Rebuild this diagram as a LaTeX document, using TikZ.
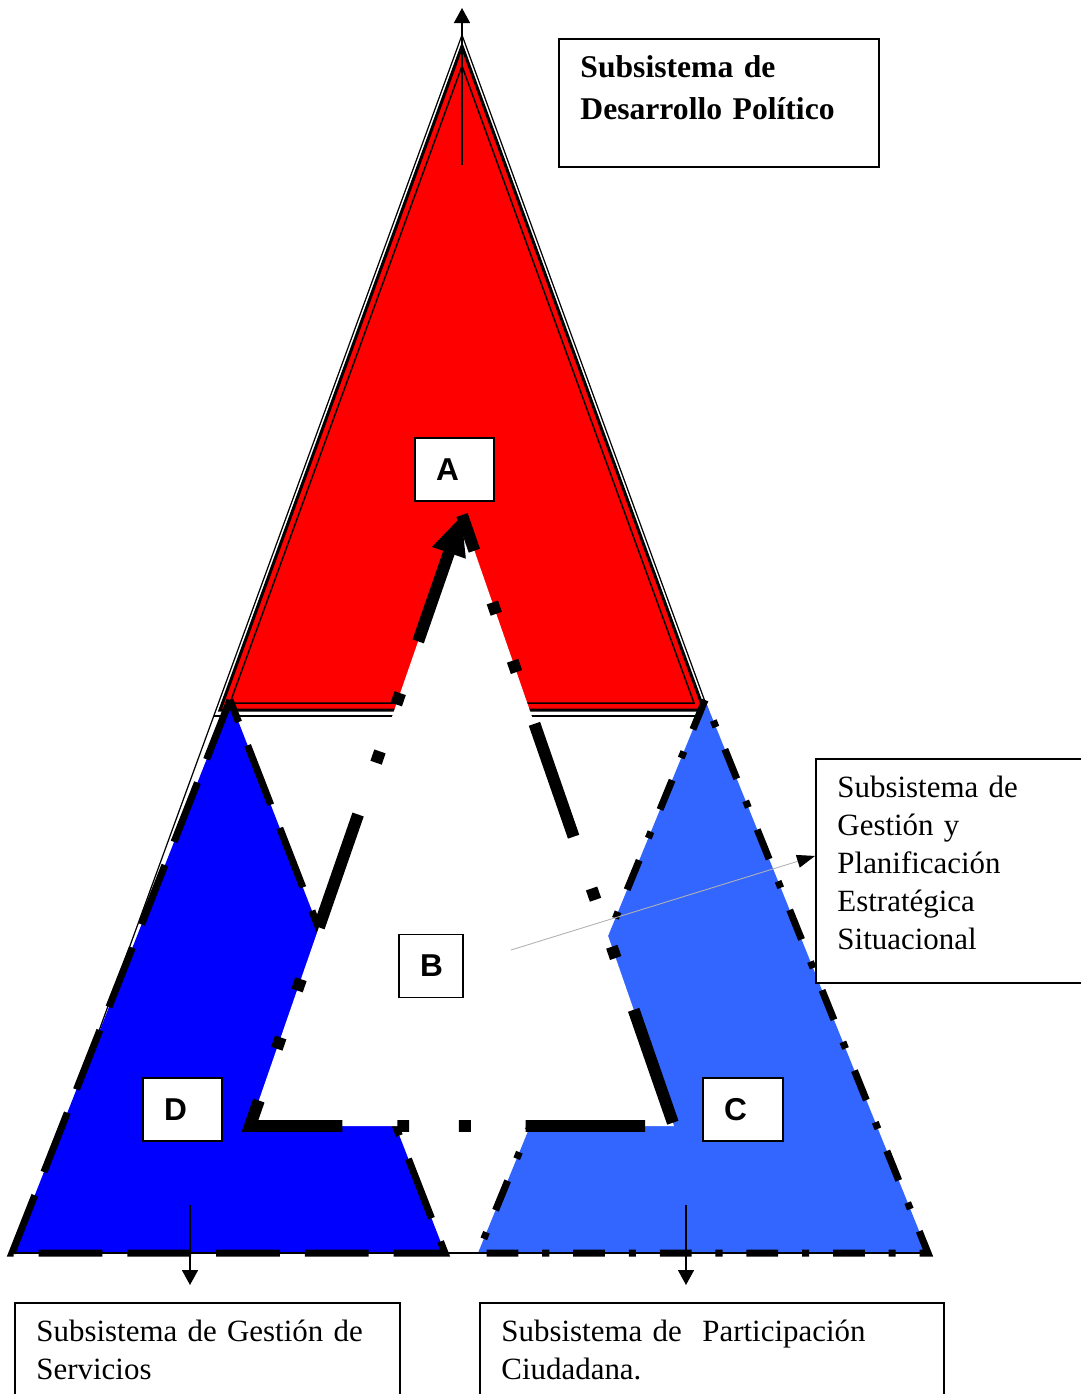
\documentclass[tikz,border=0pt]{standalone}
\usepackage{fontspec}
\setmainfont{Liberation Serif}
\newfontfamily\lettersfont{Liberation Sans}
\usetikzlibrary{arrows.meta,calc}
\definecolor{dblue}{RGB}{0,0,255}
\definecolor{cblue}{RGB}{51,102,255}

\begin{document}
\begin{tikzpicture}[x=0.02cm, y=-0.02cm, line join=miter,
    frame/.style={draw, line width=1.1pt, fill=white, inner ysep=0pt, inner xsep=0.43cm, anchor=north west, align=left, font=\fontsize{17.6}{21.5}\selectfont},
    letterbox/.style={draw, line width=1.1pt, fill=white, inner xsep=0.42cm, minimum height=1.26cm, align=left, font=\lettersfont\bfseries\fontsize{18}{20}\selectfont},
    pdash/.style={line width=4pt, dash pattern=on 36.3pt off 14.2pt},
    pdashdot/.style={line width=4pt, dash pattern=on 18.1pt off 13.6pt on 4pt off 13.6pt},
    pcenter/.style={line width=6.8pt, dash pattern=on 68pt off 31.2pt on 6.8pt off 28.3pt on 6.8pt off 31.2pt},
    thinarrow/.style={line width=0.9pt, -{Triangle[length=0.3cm, width=0.32cm]}}]

    \useasboundingbox (0,0) rectangle (1081,1394);

    % outer triangle
    \coordinate (top) at (462,35);
    \coordinate (obl) at (18,1253);
    \coordinate (obr) at (906,1253);
    \draw[line width=0.7pt] (top) -- (obl) -- (obr) -- cycle;
    \draw[line width=0.7pt] ($(top)!0.5591!(obl)$) -- ($(top)!0.5591!(obr)$);

    % A
    \filldraw[fill=red, line width=1.7pt] (462,46) -- (220,710) -- (704,710) -- cycle;
    \draw[line width=0.85pt] (462,66) -- (230,703) -- (694,703) -- cycle;

    % D and C
    \filldraw[fill=dblue, pdash] (230,700) -- (12,1253) -- (445,1253) -- cycle;
    \filldraw[fill=cblue, pdashdot] (705,700) -- (478,1253) -- (928,1253) -- cycle;

    % B
    \coordinate (bTop) at (462,515);
    \coordinate (bRight) at (674,1126);
    \coordinate (bLeft) at (250,1126);
    \fill[white] (bTop) -- (bRight) -- (bLeft) -- cycle;
    \draw[pcenter, dash phase=46.5pt] (bTop) -- (bRight);
    \draw[pcenter, dash phase=155.9pt, -{Triangle[length=0.8cm, width=0.65cm]}] (bRight) -- (bLeft) -- (bTop);

    \coordinate (dbl) at (12,1253);
    \coordinate (cbr) at (928,1253);
    \draw[line width=0.7pt] (dbl) -- (cbr);

    \node[letterbox, text width=0.74cm] (A) at (454.5,469.5) {A};
    \node[letterbox, text width=0.44cm] (B) at (431,966) {B};
    \node[letterbox, text width=0.76cm] (C) at (743,1109.5) {C};
    \node[letterbox, text width=0.74cm] (D) at (182.5,1109.5) {D};

    \node[frame, font=\fontsize{18}{23.8}\selectfont\bfseries, text width=5.54cm, text height=0.78cm, text depth=1.78cm] (dp) at (558,38) {Subsistema de\\Desarrollo Político};
    \node[frame, text width=4.86cm, text height=0.78cm, text depth=3.7cm] (gpe) at (815,758) {Subsistema de\\Gestión y\\Planificación\\Estratégica\\Situacional};
    \node[frame, text width=6.84cm, text height=0.78cm, text depth=2.4cm] (gs) at (14,1302) {Subsistema de Gestión de\\Servicios};
    \node[frame, text width=8.42cm, text height=0.78cm, text depth=2.4cm] (pc) at (479,1302) {Subsistema de\ \ Participación\\Ciudadana.};

    \coordinate (aStem) at (462,165);
    \coordinate (aTip) at (462,8);
    \coordinate (dStem) at (190,1205);
    \coordinate (dTip) at (190,1285);
    \coordinate (cStem) at (686,1205);
    \coordinate (cTip) at (686,1285);
    \draw[thinarrow] (aStem) -- (aTip);
    \draw[thinarrow] (dStem) -- (dTip);
    \draw[thinarrow] (cStem) -- (cTip);
    \draw[gray!60, line width=0.5pt, -{Triangle[black, length=0.36cm, width=0.26cm]}] ($(B.east)+(47,-16)$) -- ($(gpe.west)+(0,-15)$);
\end{tikzpicture}
\end{document}
